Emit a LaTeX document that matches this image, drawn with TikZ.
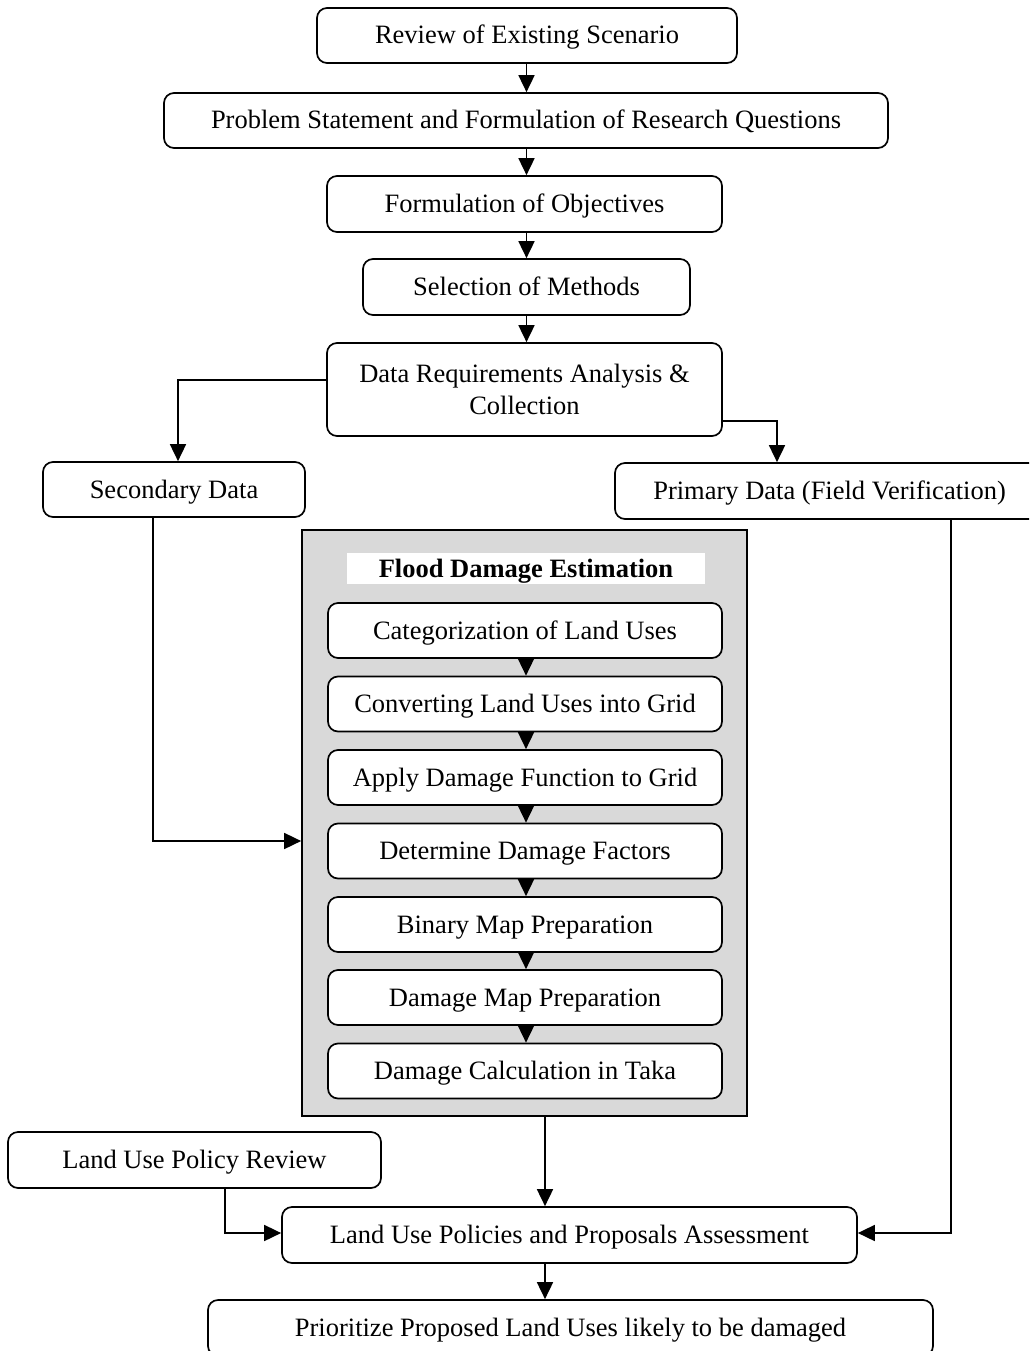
\documentclass[tikz,border=0pt]{standalone}
\usepackage{fontspec}
\setmainfont{Liberation Serif}
\usetikzlibrary{arrows.meta}
\definecolor{panelgray}{RGB}{217,217,217}
\tikzset{
  box/.style={draw, line width=1.7pt, rounded corners=10pt, fill=white, inner sep=0pt,
    font=\fontsize{26.5}{31.5}\selectfont, text height=19pt, text depth=2pt, align=center},
  arr/.style={line width=1.7pt, -{Triangle[length=17pt,width=16pt]}},
  ln/.style={line width=1.7pt},
}
\begin{document}
\begin{tikzpicture}[x=1pt,y=-1pt]
\useasboundingbox (0,0) rectangle (1029,1351);
\begin{scope}
\clip (0,0) rectangle (1029,1351);
% top chain
\node[box, minimum width=420pt, minimum height=55pt] (rev) at (527,35.5) {Review of Existing Scenario};
\node[box, minimum width=724pt, minimum height=55pt] (prob) at (526,120.5) {Problem Statement and Formulation of Research Questions};
\node[box, minimum width=395pt, minimum height=56pt] (form) at (524.5,204) {Formulation of Objectives};
\node[box, minimum width=327pt, minimum height=56pt] (sel) at (526.5,287) {Selection of Methods};
\node[box, minimum width=395pt, minimum height=93pt, text height={}, text depth={}] (data) at (524.5,389.5) {Data Requirements Analysis \&\\Collection};
\node[box, minimum width=262pt, minimum height=55pt] (sec) at (174,489.5) {Secondary Data};
\node[box, minimum width=429pt, minimum height=56pt] (prim) at (829.5,491) {Primary Data (Field Verification)};
% panel
\node[draw, line width=1.7pt, fill=panelgray, minimum width=445pt, minimum height=586pt, inner sep=0pt] (fde) at (524.5,823) {};
\node[fill=white, minimum width=358pt, minimum height=31pt, inner sep=0pt,
  font=\fontsize{26.5}{31.5}\selectfont\bfseries, text height=19pt, text depth=2pt] (title) at (526,568.5) {Flood Damage Estimation};
\node[box, minimum width=394pt, minimum height=55pt] (c1) at (525,630.5) {Categorization of Land Uses};
\node[box, minimum width=394pt, minimum height=55pt] (c2) at (525,704) {Converting Land Uses into Grid};
\node[box, minimum width=394pt, minimum height=55pt] (c3) at (525,777.5) {Apply Damage Function to Grid};
\node[box, minimum width=394pt, minimum height=55pt] (c4) at (525,851) {Determine Damage Factors};
\node[box, minimum width=394pt, minimum height=55pt] (c5) at (525,924.5) {Binary Map Preparation};
\node[box, minimum width=394pt, minimum height=55pt] (c6) at (525,997.5) {Damage Map Preparation};
\node[box, minimum width=394pt, minimum height=55pt] (c7) at (525,1071) {Damage Calculation in Taka};
% bottom
\node[box, minimum width=373pt, minimum height=56pt] (lupr) at (194.5,1160) {Land Use Policy Review};
\node[box, minimum width=575pt, minimum height=56pt] (lupa) at (569.5,1235) {Land Use Policies and Proposals Assessment};
\node[box, minimum width=725pt, minimum height=56pt] (prio) at (570.5,1328) {Prioritize Proposed Land Uses likely to be damaged};
% connectors
\draw[arr] (526.5,0 |- rev.south) -- (526.5,0 |- prob.north);
\draw[arr] (526.5,0 |- prob.south) -- (526.5,0 |- form.north);
\draw[arr] (526.5,0 |- form.south) -- (526.5,0 |- sel.north);
\draw[arr] (526.5,0 |- sel.south) -- (526.5,0 |- data.north);
\draw[arr] (data.west |- 0,380) -| (178,0 |- sec.north);
\draw[arr] (data.east |- 0,421) -| (777,0 |- prim.north);
\draw[arr] (153,0 |- sec.south) |- (fde.west |- 0,841);
\foreach \a/\b in {c1/c2,c2/c3,c3/c4,c4/c5,c5/c6,c6/c7}
  \draw[arr] (526,0 |- \a.south) -- (526,0 |- \b.north);
\draw[arr] (951,0 |- prim.south) |- (lupa.east |- 0,1233);
\draw[arr] (545,0 |- fde.south) -- (545,0 |- lupa.north);
\draw[arr] (225,0 |- lupr.south) |- (lupa.west |- 0,1233);
\draw[arr] (545,0 |- lupa.south) -- (545,0 |- prio.north);
\end{scope}
\end{tikzpicture}
\end{document}
